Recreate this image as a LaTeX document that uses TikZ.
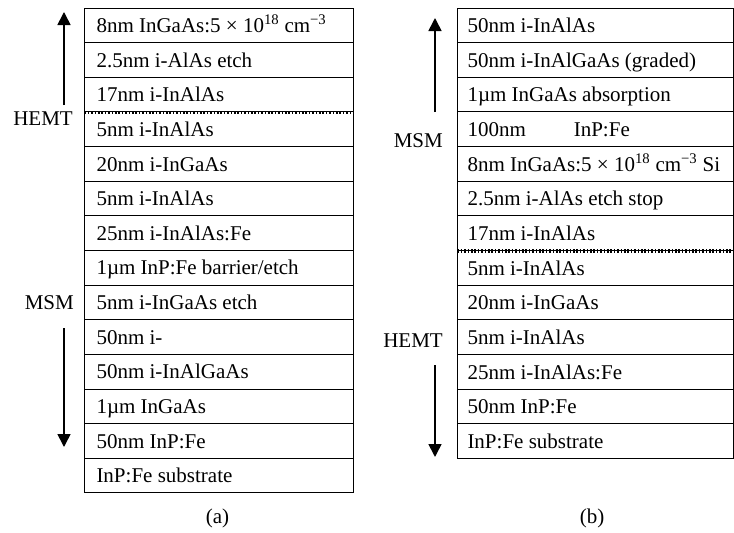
\documentclass[tikz,border=0pt]{standalone}
\usepackage{fontspec}
\setmainfont{Liberation Serif}
\usetikzlibrary{arrows.meta}
\tikzset{
  layerbase/.style={draw, line width=1pt, rectangle, anchor=north west,
    inner ysep=0pt, minimum height=34.65pt, text height=24.5pt, text depth=10.15pt},
  layera/.style={layerbase, inner xsep=11.7pt},
  layerb/.style={layerbase, inner xsep=9.7pt},
  dotline/.style={line width=3.5pt, dash pattern=on 1.6pt off 1.8pt},
  dirarrow/.style={line width=1.6pt, -{Triangle[length=13pt,width=13pt]}},
  lbl/.style={anchor=base east, inner sep=0pt},
  captext/.style={anchor=base, inner sep=0pt}
}
\begin{document}
\begin{tikzpicture}[x=1pt,y=-1pt,font=\fontsize{21}{25}\selectfont]
\useasboundingbox (0,0) rectangle (734,533);
% stack (a)
\foreach \t [count=\i] in {
  {8nm InGaAs:5 × 10\textsuperscript{18} cm\textsuperscript{−3}},
  {2.5nm i-AlAs etch},
  {17nm i-InAlAs},
  {5nm i-InAlAs},
  {20nm i-InGaAs},
  {5nm i-InAlAs},
  {25nm i-InAlAs:Fe},
  {1µm InP:Fe barrier/etch},
  {5nm i-InGaAs etch},
  {50nm i-},
  {50nm i-InAlGaAs},
  {1µm InGaAs},
  {50nm InP:Fe},
  {InP:Fe substrate}}
  \node[layera] (a\i) at (84.3,{7.5+(\i-1)*34.64}) {\makebox[245pt][l]{\t}};
\draw[dotline] (a3.south west) -- (a3.south east);
% stack (b)
\foreach \t [count=\i] in {
  {50nm i-InAlAs},
  {50nm i-InAlGaAs (graded)},
  {1µm InGaAs absorption},
  {100nm\hspace{48pt}InP:Fe},
  {8nm InGaAs:5 × 10\textsuperscript{18} cm\textsuperscript{−3} Si},
  {2.5nm i-AlAs etch stop},
  {17nm i-InAlAs},
  {5nm i-InAlAs},
  {20nm i-InGaAs},
  {5nm i-InAlAs},
  {25nm i-InAlAs:Fe},
  {50nm InP:Fe},
  {InP:Fe substrate}}
  \node[layerb] (b\i) at (457.3,{7.5+(\i-1)*34.65}) {\makebox[256.3pt][l]{\t}};
\draw[dotline] (b7.south west) -- (b7.south east);
% labels
\node[lbl] (hemta) at (73,125) {HEMT};
\node[lbl] (msma) at (74,309) {MSM};
\node[lbl] (msmb) at (443,147) {MSM};
\node[lbl] (hemtb) at (443,347) {HEMT};
% arrows
\coordinate (aupS) at (64,105);
\coordinate (aupE) at (64,12);
\coordinate (adnS) at (64,328);
\coordinate (adnE) at (64,447);
\coordinate (bupS) at (435,112);
\coordinate (bupE) at (435,18);
\coordinate (bdnS) at (435,365);
\coordinate (bdnE) at (435,457);
\draw[dirarrow] (aupS) -- (aupE);
\draw[dirarrow] (adnS) -- (adnE);
\draw[dirarrow] (bupS) -- (bupE);
\draw[dirarrow] (bdnS) -- (bdnE);
% captions
\node[captext] (capa) at (217.5,523) {(a)};
\node[captext] (capb) at (592,523) {(b)};
\end{tikzpicture}
\end{document}
